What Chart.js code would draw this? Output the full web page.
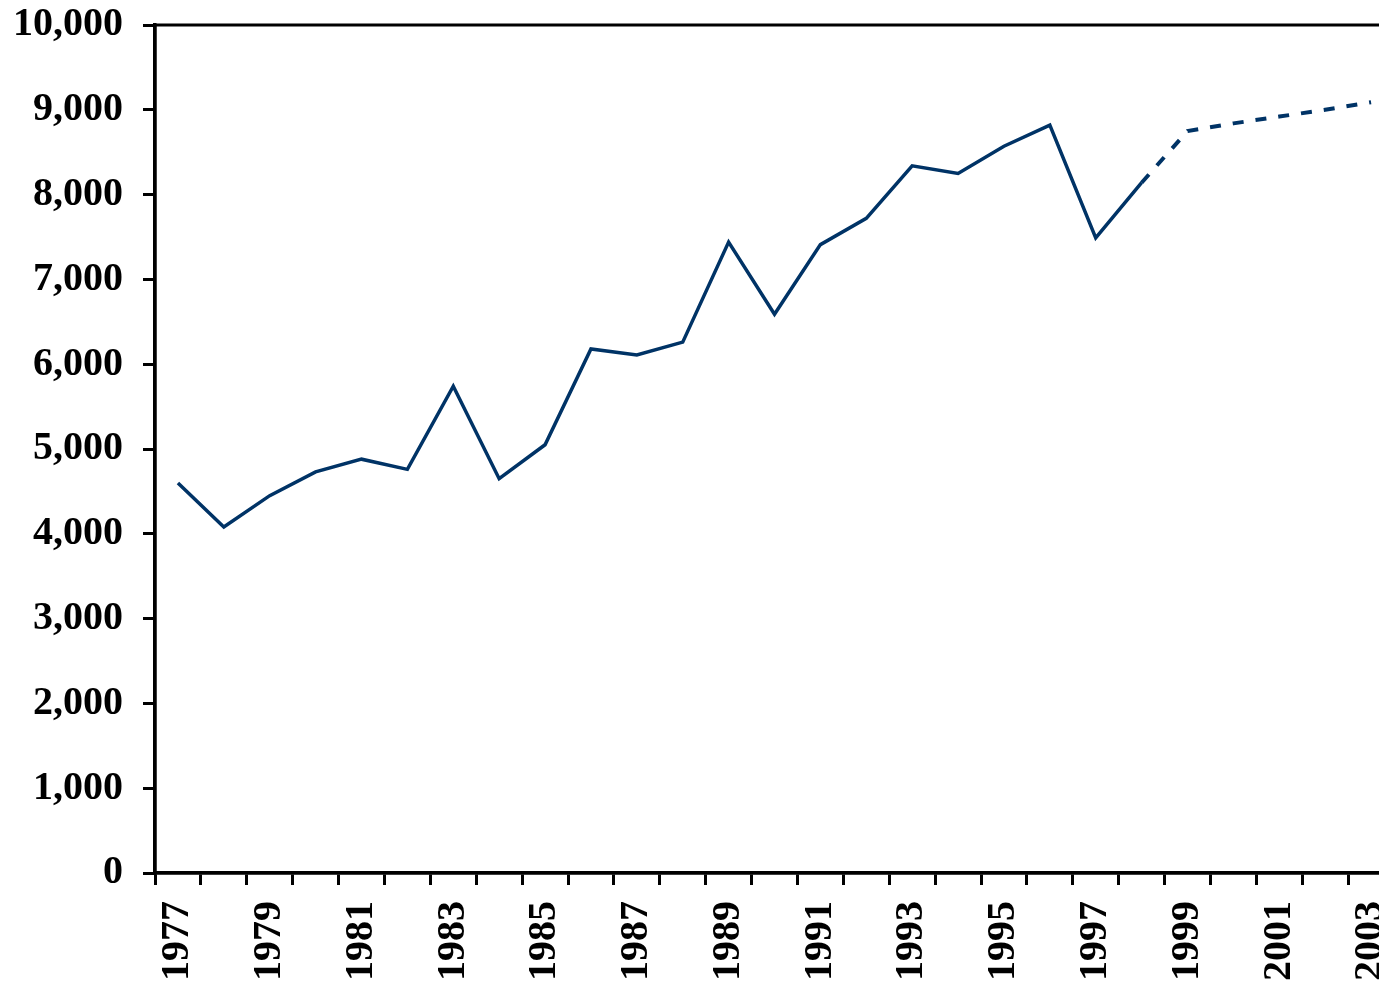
<!DOCTYPE html>
<html>
<head>
<meta charset="utf-8">
<script src="https://cdn.jsdelivr.net/npm/chart.js@4"></script>
<style>
  html, body { margin: 0; padding: 0; background: #fff; overflow: hidden; }
  canvas { display: block; }
</style>
</head>
<body>
<canvas id="mainChart" width="1400" height="987"></canvas>
<script>
const years = ['1977', '1978', '1979', '1980', '1981', '1982', '1983', '1984', '1985',
  '1986', '1987', '1988', '1989', '1990', '1991', '1992', '1993', '1994', '1995',
  '1996', '1997', '1998', '1999', '2000', '2001', '2002', '2003'];

// observed values
const actual = [4600, 4080, 4450, 4730, 4880, 4760, 5740, 4650, 5050,
  6180, 6110, 6260, 7440, 6590, 7410, 7720, 8340, 8250, 8570,
  8820, 7490, 8140, null, null, null, null, null];

// projection (dashed)
const projected = [null, null, null, null, null, null, null, null, null,
  null, null, null, null, null, null, null, null, null, null,
  null, null, 8140, 8750, 8840, 8920, 9000, 9090];

const yTicks = [0, 1000, 2000, 3000, 4000, 5000, 6000, 7000, 8000, 9000, 10000];

const lineColor = '#003366';
const axisFont = { family: '"Liberation Serif", "Times New Roman", serif', size: 40, weight: 'bold' };

// frame around the plot area
const frame = {
  id: 'frame',
  beforeDatasetsDraw(chart) {
    const { ctx, chartArea } = chart;
    ctx.save();
    ctx.strokeStyle = '#000';
    ctx.lineWidth = 3;
    ctx.strokeRect(chartArea.left, chartArea.top, chartArea.right - chartArea.left, chartArea.bottom - chartArea.top);
    ctx.restore();
  }
};

const ctx = document.getElementById('mainChart').getContext('2d');
new Chart(ctx, {
  type: 'line',
  data: {
    labels: years,
    datasets: [
      {
        label: 'Actual',
        data: actual,
        borderColor: lineColor,
        borderWidth: 3.5,
        pointRadius: 0,
        tension: 0,
        fill: false,
      },
      {
        label: 'Projected',
        data: projected,
        borderColor: lineColor,
        borderWidth: 4,
        borderDash: [11, 12],
        pointRadius: 0,
        tension: 0,
        fill: false,
      },
    ],
  },
  options: {
    responsive: false,
    animation: false,
    layout: { padding: { top: 25, right: 6, left: 0, bottom: 0 } },
    plugins: {
      legend: { display: false },
      tooltip: { enabled: false },
    },
    scales: {
      x: {
        offset: true,
        grid: {
          offset: true,
          drawOnChartArea: false,
          color: '#000',
          tickLength: 12,
          lineWidth: 3,
        },
        border: { color: '#000', width: 3.5 },
        ticks: {
          autoSkip: false,
          maxRotation: 90,
          minRotation: 90,
          padding: 16,
          color: '#000',
          font: axisFont,
          callback: function (value, index) {
            return index % 2 === 0 ? years[index] : '';
          },
        },
        afterFit: function (scale) {
          scale.height = 114;
          scale.paddingLeft = 0;
          scale.paddingRight = 0;
        },
      },
      y: {
        min: 0,
        max: 10000,
        afterBuildTicks: function (scale) {
          scale.ticks = yTicks.map(v => ({ value: v }));
        },
        grid: {
          drawOnChartArea: false,
          color: '#000',
          tickLength: 12,
          lineWidth: 3,
        },
        border: { color: '#000', width: 3.5 },
        ticks: {
          padding: 20,
          color: '#000',
          font: axisFont,
          callback: function (value) { return value.toLocaleString('en-US'); },
        },
        afterFit: function (scale) {
          scale.width = 155;
          scale.paddingTop = 0;
          scale.paddingBottom = 0;
        },
      },
    },
  },
  plugins: [frame],
});
</script>
</body>
</html>
